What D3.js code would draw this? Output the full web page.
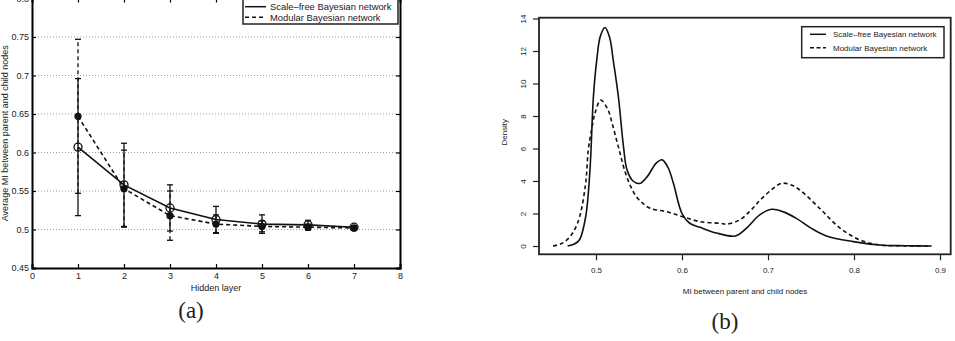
<!DOCTYPE html>
<html>
<head>
<meta charset="utf-8">
<script src="https://cdn.jsdelivr.net/npm/d3@7"></script>
<style>
  body { margin: 0; background: #fff; }
  text { font-family: "Liberation Sans", Arial, sans-serif; fill: #222; }
</style>
</head>
<body>
<div id="chart"></div>
<script>
// (a) average MI per hidden layer, with error bars
const layers = [1, 2, 3, 4, 5, 6, 7]
const sfMean = [0.607, 0.558, 0.528, 0.513, 0.507, 0.506, 0.503]
const sfErr = [0.089, 0.054, 0.030, 0.017, 0.012, 0.006, 0.002]
const modMean = [0.647, 0.553, 0.518, 0.507, 0.504, 0.503, 0.502]
const modErr = [0.100, 0.050, 0.032, 0.012, 0.007, 0.004, 0.002]
const aXTicks = [0, 1, 2, 3, 4, 5, 6, 7, 8]
const aYTicks = [0.45, 0.5, 0.55, 0.6, 0.65, 0.7, 0.75, 0.8]
const aYLabels = ["0.45", "0.5", "0.55", "0.6", "0.65", "0.7", "0.75", "0.8"]
const aGrid = [0.5, 0.55, 0.6, 0.65, 0.7, 0.75]

// (b) density of MI between parent and child nodes
const sfX = [0.467, 0.475, 0.481, 0.488, 0.493, 0.497, 0.501, 0.505, 0.5105, 0.516, 0.520, 0.526, 0.532, 0.536, 0.543, 0.551, 0.560, 0.570, 0.577, 0.584, 0.590, 0.600, 0.609, 0.621, 0.640, 0.662, 0.675, 0.690, 0.704, 0.718, 0.733, 0.750, 0.768, 0.799, 0.830, 0.860, 0.890]
const sfY = [0, 0.12, 0.4, 1.8, 4.7, 9.2, 11.5, 12.9, 13.45, 12.8, 11.45, 9.2, 6.1, 4.7, 4.0, 3.85, 4.3, 5.1, 5.3, 4.8, 3.86, 2.0, 1.4, 1.15, 0.8, 0.62, 1.1, 1.9, 2.26, 2.1, 1.7, 1.1, 0.62, 0.27, 0.06, 0.02, 0]
const modX = [0.450, 0.460, 0.468, 0.475, 0.481, 0.488, 0.491, 0.495, 0.499, 0.5055, 0.514, 0.519, 0.524, 0.528, 0.533, 0.540, 0.547, 0.555, 0.563, 0.582, 0.601, 0.621, 0.644, 0.652, 0.667, 0.680, 0.691, 0.705, 0.716, 0.727, 0.737, 0.760, 0.784, 0.807, 0.830, 0.860, 0.890]
const modY = [0, 0.15, 0.47, 1.0, 1.8, 3.86, 5.9, 7.2, 8.2, 8.98, 8.37, 7.5, 6.5, 5.7, 4.7, 3.7, 3.03, 2.6, 2.32, 2.11, 1.80, 1.50, 1.40, 1.35, 1.6, 2.2, 2.83, 3.5, 3.86, 3.75, 3.45, 2.32, 1.09, 0.37, 0.06, 0.01, 0]
const bXTicks = [0.5, 0.6, 0.7, 0.8, 0.9]
const bYTicks = [0, 2, 4, 6, 8, 10, 12, 14]

const seriesNames = ["Scale\u2013free Bayesian network", "Modular Bayesian network"]

const svg = d3.select("#chart")
              .append("svg")
              .attr("width", 955)
              .attr("height", 341)

//---------------- chart (a) ----------------
let ax = d3.scaleLinear().domain([0, 8]).range([32, 400])
let ay = d3.scaleLinear().domain([0.45, 0.8]).range([268, -1.5])

let a = svg.append("g")

a.selectAll(".grid")
 .data(aGrid)
 .enter().append("line")
 .attr("x1", ax(0)).attr("x2", ax(8))
 .attr("y1", d => ay(d)).attr("y2", d => ay(d))
 .attr("stroke", "#888")
 .attr("stroke-width", 0.8)
 .attr("stroke-dasharray", "1,2")

let aLeft = d3.axisLeft(ay).tickValues(aYTicks).tickSize(-4).tickPadding(3)
              .tickFormat((d, i) => aYLabels[i])
let aBottom = d3.axisBottom(ax).tickValues(aXTicks).tickSize(-4).tickPadding(5)
              .tickFormat(d3.format("d"))
let aTop = d3.axisTop(ax).tickValues(aXTicks).tickSize(-4).tickFormat("")
let aRight = d3.axisRight(ay).tickValues(aYTicks).tickSize(-4).tickFormat("")

a.append("g").attr("transform", "translate(32,0)").call(aLeft)
a.append("g").attr("transform", "translate(0,268)").call(aBottom)
a.append("g").attr("transform", "translate(0,-1.5)").call(aTop)
a.append("g").attr("transform", "translate(400,0)").call(aRight)
a.selectAll(".domain").attr("stroke-width", 2)
a.selectAll(".tick line").attr("stroke-width", 1.2)
a.selectAll(".tick text").style("font-size", "9px").attr("fill", "#222")

a.append("text")
 .attr("x", ax(4)).attr("y", 291)
 .attr("text-anchor", "middle")
 .style("font-size", "9px")
 .text("Hidden layer")

a.append("text")
 .attr("transform", "translate(8," + ay(0.625) + ") rotate(-90)")
 .attr("text-anchor", "middle")
 .style("font-size", "9px")
 .text("Average MI between parent and child nodes")

function drawErr(mean, err, dash, marker) {
  let pts = layers.map((l, i) => ({x: l, m: mean[i], e: err[i]}))
  let line = d3.line().x(d => ax(d.x)).y(d => ay(d.m))
  a.append("path")
   .datum(pts)
   .attr("d", line)
   .attr("fill", "none")
   .attr("stroke", "#111")
   .attr("stroke-width", 1.6)
   .attr("stroke-dasharray", dash)
  let g = a.append("g")
  g.selectAll("line.bar")
   .data(pts).enter().append("line")
   .attr("x1", d => ax(d.x)).attr("x2", d => ax(d.x))
   .attr("y1", d => ay(d.m - d.e)).attr("y2", d => ay(d.m + d.e))
   .attr("stroke", "#111").attr("stroke-width", 1.3)
   .attr("stroke-dasharray", dash)
  ;[-1, 1].forEach(s => {
    g.selectAll("line.cap" + s)
     .data(pts).enter().append("line")
     .attr("x1", d => ax(d.x) - 3).attr("x2", d => ax(d.x) + 3)
     .attr("y1", d => ay(d.m + s * d.e)).attr("y2", d => ay(d.m + s * d.e))
     .attr("stroke", "#111").attr("stroke-width", 1.3)
  })
  g.selectAll("circle")
   .data(pts).enter().append("circle")
   .attr("cx", d => ax(d.x)).attr("cy", d => ay(d.m))
   .attr("r", marker == "open" ? 4 : 3)
   .attr("fill", marker == "open" ? "none" : "#111")
   .attr("stroke", "#111")
   .attr("stroke-width", 1.3)
}
drawErr(modMean, modErr, "4,3", "filled")
drawErr(sfMean, sfErr, null, "open")

// legend (a)
a.append("rect")
 .attr("x", 243).attr("y", -3).attr("width", 155).attr("height", 27)
 .attr("fill", "#fff").attr("stroke", "#222").attr("stroke-width", 1.5)
seriesNames.forEach((n, i) => {
  let yy = 6.7 + i * 10.6
  a.append("line")
   .attr("x1", 245).attr("x2", 266).attr("y1", yy).attr("y2", yy)
   .attr("stroke", "#111").attr("stroke-width", 1.5)
   .attr("stroke-dasharray", i ? "4,3" : null)
  a.append("text")
   .attr("x", 270).attr("y", yy).attr("dy", "0.35em")
   .style("font-size", "9.4px")
   .text(n)
})

svg.append("text")
   .attr("x", 191).attr("y", 318)
   .attr("text-anchor", "middle")
   .style("font-family", "'Liberation Serif', 'DejaVu Serif', serif")
   .style("font-size", "23px")
   .text("(a)")

//---------------- chart (b) ----------------
let bx = d3.scaleLinear().domain([0.5, 0.9]).range([596, 940])
let by = d3.scaleLinear().domain([0, 14]).range([246, 18.5])

let b = svg.append("g")

b.append("rect")
 .attr("x", 539).attr("y", 17.7).attr("width", 411.7).attr("height", 236.6)
 .attr("fill", "none").attr("stroke", "#222").attr("stroke-width", 1.8)

let bBottom = d3.axisBottom(bx).tickValues(bXTicks).tickSize(6).tickPadding(7)
                .tickFormat(d3.format(".1f"))
let bLeft = d3.axisLeft(by).tickValues(bYTicks).tickSize(6)

b.append("g").attr("class", "bx").attr("transform", "translate(0,254.3)").call(bBottom)
let bl = b.append("g").attr("class", "by").attr("transform", "translate(539,0)").call(bLeft)
b.selectAll(".domain").remove()
b.selectAll(".tick line").attr("stroke", "#222").attr("stroke-width", 1.2)
b.selectAll(".tick text").style("font-size", "8px").attr("fill", "#333")
bl.selectAll(".tick text")
  .attr("x", 0).attr("y", -13).attr("dy", 0)
  .attr("transform", "rotate(-90)")
  .attr("text-anchor", "middle")

b.append("text")
 .attr("x", 745).attr("y", 294)
 .attr("text-anchor", "middle")
 .style("font-size", "8px")
 .attr("fill", "#333")
 .text("MI between parent and child nodes")

b.append("text")
 .attr("transform", "translate(507," + by(7) + ") rotate(-90)")
 .attr("text-anchor", "middle")
 .style("font-size", "8px")
 .attr("fill", "#333")
 .text("Density")

let dline = d3.line().x(d => bx(d[0])).y(d => by(d[1])).curve(d3.curveCatmullRom.alpha(0.5))
b.append("path")
 .datum(modX.map((x, i) => [x, modY[i]]))
 .attr("d", dline)
 .attr("fill", "none").attr("stroke", "#111").attr("stroke-width", 1.6)
 .attr("stroke-dasharray", "4,3")
b.append("path")
 .datum(sfX.map((x, i) => [x, sfY[i]]))
 .attr("d", dline)
 .attr("fill", "none").attr("stroke", "#111").attr("stroke-width", 1.6)

// legend (b)
b.append("rect")
 .attr("x", 801.7).attr("y", 26.7).attr("width", 142.3).attr("height", 31)
 .attr("fill", "#fff").attr("stroke", "#222").attr("stroke-width", 1.5)
seriesNames.forEach((n, i) => {
  let yy = 34.3 + i * 13.4
  b.append("line")
   .attr("x1", 810).attr("x2", 826).attr("y1", yy).attr("y2", yy)
   .attr("stroke", "#111").attr("stroke-width", 1.5)
   .attr("stroke-dasharray", i ? "4,2.5" : null)
  b.append("text")
   .attr("x", 833).attr("y", yy).attr("dy", "0.35em")
   .style("font-size", "8px")
   .attr("fill", "#333")
   .text(n)
})

svg.append("text")
   .attr("x", 725).attr("y", 329)
   .attr("text-anchor", "middle")
   .style("font-family", "'Liberation Serif', 'DejaVu Serif', serif")
   .style("font-size", "23px")
   .text("(b)")
</script>
</body>
</html>
